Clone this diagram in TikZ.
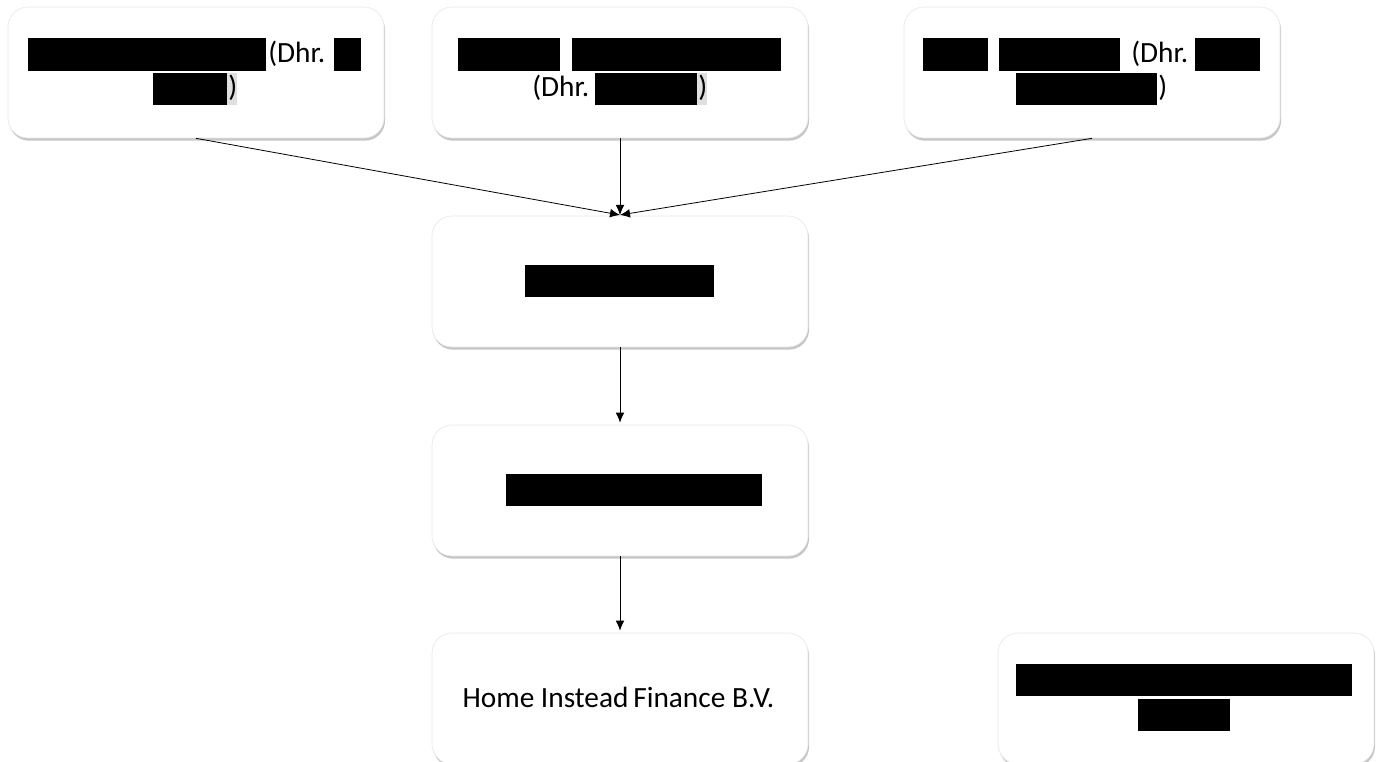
\documentclass[tikz,border=0pt]{standalone}
\usepackage{fontspec}
\setmainfont{Carlito}
\usetikzlibrary{shadows,arrows.meta}
\tikzset{
  box/.style={rectangle, rounded corners=15pt, fill=white, draw=gray!18, line width=0.5pt,
    minimum width=282pt, minimum height=98.25pt, inner sep=0pt,
    drop shadow={opacity=0.45, shadow xshift=0.8pt, shadow yshift=-2pt}},
  conn/.style={line width=0.6pt, -{Latex[length=7.5pt,width=6.5pt]}},
  txt/.style={inner sep=0pt, anchor=base west, font=\fontsize{22}{26}\selectfont},
  bar/.style={fill=black},
  hl/.style={fill=gray!25}
}
\begin{document}
\begin{tikzpicture}[x=0.75pt,y=-0.75pt]
\useasboundingbox (0,0) rectangle (1382,762);
% boxes
\node[box] (b1) at (196,72.5) {};
\node[box] (b2) at (620,72.5) {};
\node[box] (b3) at (1092,72.5) {};
\node[box] (b4) at (620,281.5) {};
\node[box] (b5) at (620,490.5) {};
\node[box] (b6) at (620,698.5) {};
\node[box] (b7) at (1186,698.5) {};
% box 1 text
\fill[bar] (28,38) rectangle (266,71);
\node[txt] (t1a) at (268,63) {(Dhr.};
\fill[bar] (334,38) rectangle (361,71);
\fill[hl] (227,73) rectangle (237,105);
\fill[bar] (153,73) rectangle (227,105);
\node[txt] (t1b) at (228,97) {)};
% box 2 text
\fill[bar] (458,38) rectangle (560,71);
\fill[bar] (572,38) rectangle (781,71);
\node[txt] (t2a) at (532,97) {(Dhr.};
\fill[hl] (697,73) rectangle (707,105);
\fill[bar] (595,73) rectangle (697,105);
\node[txt] (t2b) at (698,97) {)};
% box 3 text
\fill[bar] (923,38) rectangle (988,71);
\fill[bar] (999,38) rectangle (1120,71);
\node[txt] (t3a) at (1131,63) {(Dhr.};
\fill[bar] (1195,38) rectangle (1260,71);
\fill[bar] (1016,73) rectangle (1157,105);
\node[txt] (t3b) at (1158,97) {)};
% box 4, 5, 7 bars
\fill[bar] (525,265) rectangle (714,297);
\fill[bar] (506,474) rectangle (762,506);
\fill[bar] (1016,664) rectangle (1352,696);
\fill[bar] (1138,699) rectangle (1230,731);
% box 6 text
\node[txt, anchor=base] (t6) at (618.5,707) {Home Instead\,Finance B.V.};
% connectors
\coordinate (m) at (620,215);
\draw[conn] (b1.south) -- (m);
\draw[conn] (b2.south) -- (m);
\draw[conn] (b3.south) -- (m);
\draw[conn] (b4.south) -- ([yshift=1.5pt]b5.north);
\draw[conn] (b5.south) -- ([yshift=1.5pt]b6.north);
\end{tikzpicture}
\end{document}
